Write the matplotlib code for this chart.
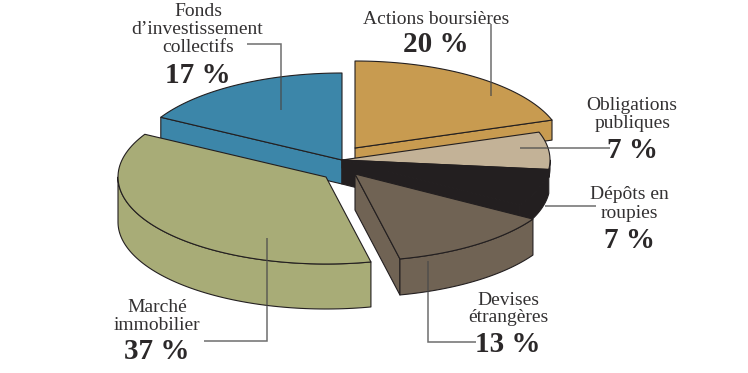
import numpy as np
import matplotlib
matplotlib.use("Agg")
import matplotlib.pyplot as plt
from matplotlib.patches import Polygon

# Portfolio shares, clockwise from twelve o'clock
categories = ["Actions boursières", "Obligations publiques", "Dépôts en roupies",
              "Devises étrangères", "Marché immobilier", "Fonds d’investissement collectifs"]
shares = [20, 7, 7, 13, 37, 17]

# Slice styling
colors = ["#C89B50", "#C3B297", "#231F20", "#706354", "#A8AC77", "#3C86A9"]
apex_x = [355, 342, 342, 355, 326, 342]
apex_y = [148, 160, 160, 174, 177, 160]
depths = [20, 8, 24, 36, 45, 24]
paint_order = [0, 5, 1, 2, 3, 4]

RX, RY = 208, 87
EDGE = "#231F20"

# Label blocks: text, centre x, baseline y
small_labels = [
    ("Actions boursières", 436, 23.5), ("Obligations", 632, 110), ("publiques", 632.5, 128.5),
    ("Dépôts en", 629, 199), ("roupies", 629, 217.5), ("Devises", 508, 305),
    ("étrangères", 508, 322.5), ("Marché", 157, 312.5), ("immobilier", 157, 330.5),
    ("Fonds", 198, 16.5), ("d’investissement", 197.5, 34.5), ("collectifs", 198, 52),
]
share_labels = [
    ("20 %", 436, 52.5), ("7 %", 633, 158), ("7 %", 630, 247.5),
    ("13 %", 508, 351.5), ("37 %", 157, 359), ("17 %", 198, 83),
]

# Leader line paths
leader_paths = [
    ([247, 281.5, 281.5], [43.5, 43.5, 110]),
    ([490.7, 490.7], [24, 96]),
    ([520, 610], [148, 148]),
    ([545, 596], [205.7, 205.7]),
    ([428.3, 428.3, 476], [261, 341.7, 341.7]),
    ([267.3, 267.3, 204], [238, 340.7, 340.7]),
]

plt.rcParams["font.family"] = ["Liberation Serif", "DejaVu Serif"]
fig = plt.figure(figsize=(7.48, 3.73), dpi=100)
ax = fig.add_axes([0, 0, 1, 1])
ax.set_xlim(0, 748)
ax.set_ylim(373, 0)
ax.axis("off")


def rim(cx, cy, start, end, n=80):
    t = np.radians(np.linspace(start, end, n))
    return np.column_stack([cx + RX * np.cos(t), cy - RY * np.sin(t)])


def add_poly(points, color, z):
    ax.add_patch(Polygon(points, closed=True, facecolor=color, edgecolor=EDGE,
                         linewidth=0.8, joinstyle="round", zorder=z))


# Slice boundaries: clockwise in degrees, the shares normalised to a full turn
sweep = 360 * np.array(shares) / sum(shares)
bounds = 90 - np.concatenate([[0], np.cumsum(sweep)])

for rank, i in enumerate(paint_order):
    cx, cy, d, col = apex_x[i], apex_y[i], depths[i], colors[i]
    start, end = bounds[i], bounds[i + 1]
    z = 2 + rank
    apex = np.array([cx, cy])
    drop = np.array([0, d])

    # Flat cut faces that turn toward the viewer
    if np.cos(np.radians(start)) < -1e-6:
        p = rim(cx, cy, start, start, 1)[0]
        add_poly([apex, p, p + drop, apex + drop], col, z)
    if np.cos(np.radians(end)) > 1e-6:
        p = rim(cx, cy, end, end, 1)[0]
        add_poly([apex, p, p + drop, apex + drop], col, z)

    # Curved outer wall along the front half of the ellipse
    lo, hi = max(end, -180), min(start, 0)
    if hi > lo:
        arc = rim(cx, cy, hi, lo)
        add_poly(np.vstack([arc, (arc + drop)[::-1]]), col, z)

    # Top face
    add_poly(np.vstack([apex, rim(cx, cy, start, end)]), col, z)

for xs, ys in leader_paths:
    ax.plot(xs, ys, color="#4a4a4a", alpha=0.8, linewidth=1.1, zorder=20,
            solid_joinstyle="miter", solid_capstyle="butt")

for text, x, y in small_labels:
    ax.text(x, y, text, ha="center", va="baseline", fontsize=14,
            color="#333132", zorder=21)
for text, x, y in share_labels:
    ax.text(x, y, text, ha="center", va="baseline", fontsize=21,
            fontweight="bold", color="#2b2829", zorder=21)

fig.savefig("out.png", dpi=100, facecolor="white")
